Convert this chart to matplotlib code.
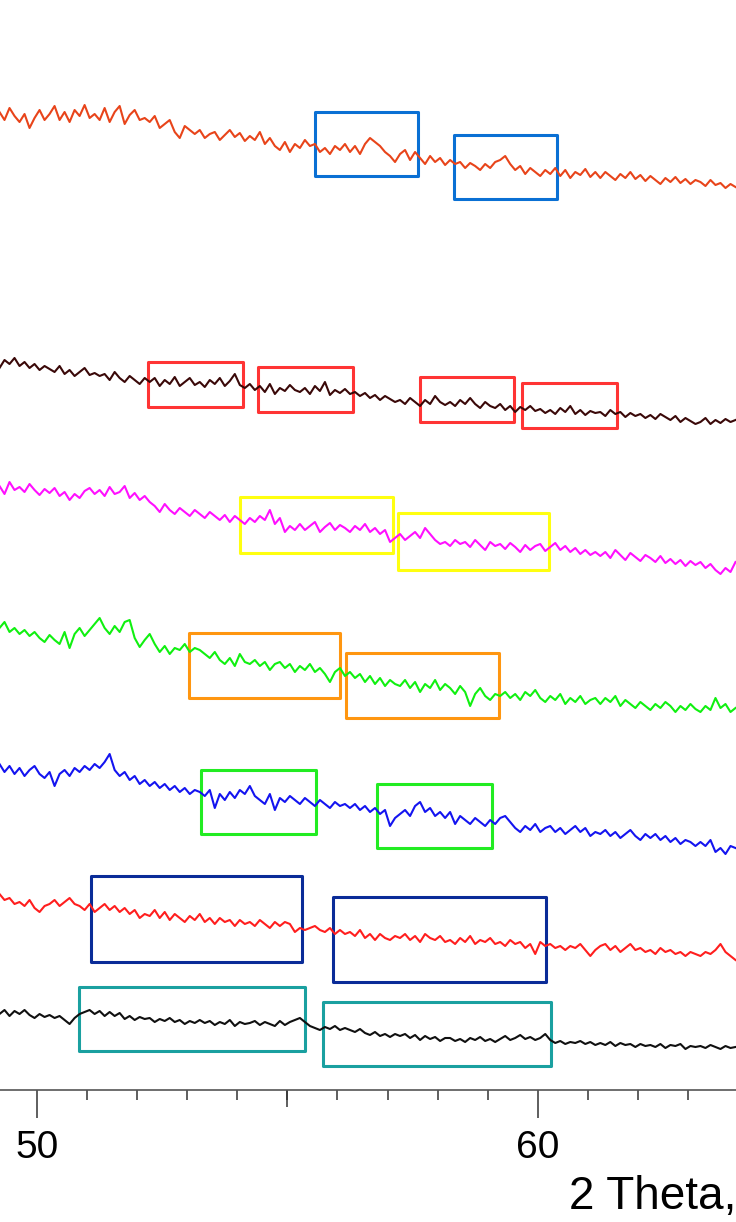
"""
XRD 局部放大图复刻 (2 Theta 49-64 区间)
"""

import numpy as np
import matplotlib.pyplot as plt
from matplotlib.patches import Rectangle

# 2 Theta 采样点 (步长 0.1)
two_theta = np.linspace(49.25, 63.95, 148)

# 各样品强度 (a.u.)，从上到下
inten_orange = [
    978, 970, 982, 974, 968, 976, 962, 972, 980, 970,
    976, 984, 970, 978, 968, 980, 974, 985, 972, 976,
    970, 982, 968, 978, 984, 966, 975, 980, 970, 972,
    968, 974, 962, 966, 970, 958, 952, 964, 960, 956,
    960, 952, 956, 958, 950, 955, 960, 953, 957, 949,
    954, 950, 958, 946, 952, 944, 940, 948, 938, 946,
    942, 950, 944, 946, 938, 942, 936, 944, 940, 946,
    938, 944, 936, 946, 952, 948, 944, 938, 934, 928,
    936, 940, 930, 938, 932, 926, 934, 928, 932, 925,
    930, 926, 928, 922, 927, 924, 920, 926, 922, 928,
    930, 934, 926, 920, 924, 916, 922, 918, 914, 920,
    916, 922, 914, 920, 912, 918, 915, 921, 913, 918,
    912, 918, 914, 910, 916, 912, 918, 911, 915, 909,
    914, 910, 906, 912, 908, 913, 907, 911, 906, 910,
    908, 904, 910, 905, 907, 902, 906, 903,
]
inten_brown = [
    722, 730, 726, 732, 724, 728, 722, 726, 720, 724,
    721, 718, 724, 716, 720, 714, 718, 722, 715, 717,
    714, 716, 710, 718, 712, 708, 714, 710, 706, 712,
    708, 712, 704, 710, 706, 713, 704, 708, 712, 705,
    708, 703, 710, 706, 712, 704, 709, 716, 705, 702,
    706, 700, 704, 698, 706, 696, 702, 699, 705, 700,
    698, 702, 696, 704, 699, 708, 695, 700, 697, 701,
    696, 698, 694, 697, 692, 695, 690, 694, 691, 688,
    690, 686, 692, 688, 684, 690, 686, 694, 688, 685,
    688, 684, 690, 686, 692, 686, 682, 688, 684, 682,
    686, 680, 684, 678, 683, 680, 684, 679, 681, 677,
    680, 676, 682, 678, 684, 676, 680, 675, 679, 677,
    678, 674, 680, 676, 678, 673, 677, 674, 676, 672,
    675, 671, 676, 673, 670, 674, 668, 672, 669, 666,
    668, 672, 666, 670, 667, 671, 668, 670,
]
inten_magenta = [
    604, 596, 608, 600, 603, 598, 606, 600, 595, 601,
    597, 602, 594, 598, 590, 596, 592, 599, 602, 596,
    600, 594, 603, 596, 598, 604, 592, 597, 590, 594,
    588, 584, 578, 586, 580, 576, 582, 578, 574, 580,
    576, 572, 578, 574, 570, 575, 568, 574, 570, 566,
    572, 568, 574, 570, 580, 566, 572, 558, 564, 560,
    566, 560, 564, 568, 558, 563, 567, 560, 565, 562,
    558, 564, 560, 566, 558, 562, 556, 560, 548, 552,
    556, 550, 554, 558, 552, 562, 556, 550, 546, 548,
    544, 550, 546, 548, 543, 550, 545, 540, 548, 544,
    546, 541, 547, 543, 538, 545, 540, 544, 546, 539,
    543, 547, 540, 544, 538, 542, 536, 540, 535, 538,
    534, 538, 532, 540, 535, 530, 537, 533, 529, 535,
    532, 528, 534, 527, 531, 526, 530, 524, 529, 525,
    528, 522, 526, 520, 516, 522, 518, 528,
]
inten_green = [
    462, 468, 458, 462, 456, 460, 454, 458, 452, 448,
    455, 450, 446, 458, 442, 456, 462, 454, 460, 466,
    472, 462, 456, 464, 458, 468, 470, 452, 443, 450,
    456, 446, 438, 444, 436, 442, 440, 446, 438, 442,
    440, 436, 432, 438, 430, 426, 432, 424, 436, 428,
    426, 430, 424, 428, 420, 426, 428, 422, 426, 418,
    424, 420, 426, 418, 422, 416, 408, 418, 422, 414,
    418, 412, 416, 408, 414, 406, 412, 404, 410, 406,
    404, 410, 402, 408, 398, 406, 402, 410, 400, 406,
    402, 396, 404, 398, 384, 396, 402, 394, 390, 396,
    394, 398, 392, 396, 390, 398, 394, 400, 392, 388,
    394, 390, 396, 386, 392, 388, 394, 386, 390, 392,
    386, 392, 388, 394, 384, 390, 386, 382, 388, 384,
    380, 386, 382, 388, 384, 378, 384, 380, 386, 381,
    378, 384, 380, 392, 382, 386, 378, 382,
]
inten_blue = [
    326, 318, 324, 316, 322, 314, 320, 324, 316, 312,
    318, 304, 316, 320, 314, 322, 318, 324, 320, 326,
    322, 328, 336, 320, 314, 318, 310, 314, 306, 310,
    304, 308, 302, 306, 300, 304, 298, 302, 296, 300,
    298, 294, 300, 282, 296, 290, 298, 292, 300, 296,
    304, 294, 290, 286, 296, 280, 292, 288, 294, 290,
    286, 292, 288, 284, 290, 286, 282, 288, 284, 286,
    282, 286, 280, 284, 278, 282, 276, 280, 264, 272,
    276, 280, 274, 284, 288, 278, 282, 274, 278, 272,
    278, 266, 274, 270, 266, 272, 268, 264, 270, 266,
    272, 274, 268, 262, 258, 264, 260, 266, 258, 262,
    264, 258, 262, 256, 260, 264, 258, 262, 254, 258,
    256, 260, 254, 258, 252, 256, 260, 254, 250, 256,
    252, 256, 250, 254, 248, 252, 246, 250, 248, 244,
    248, 244, 250, 238, 242, 236, 244, 242,
]
inten_red = [
    196, 190, 192, 186, 188, 184, 190, 182, 178, 184,
    186, 190, 184, 188, 192, 186, 184, 180, 186, 178,
    182, 186, 180, 184, 178, 182, 176, 180, 172, 176,
    174, 180, 172, 178, 170, 176, 172, 168, 174, 170,
    176, 168, 172, 166, 172, 168, 170, 164, 170, 166,
    168, 164, 170, 166, 162, 168, 164, 168, 166, 158,
    162, 160, 162, 164, 160, 158, 162, 156, 160, 156,
    158, 154, 160, 152, 156, 150, 156, 152, 150, 154,
    152, 156, 150, 154, 148, 156, 152, 150, 154, 148,
    150, 146, 152, 148, 154, 146, 150, 148, 152, 146,
    148, 144, 150, 146, 148, 142, 146, 136, 148, 144,
    146, 142, 144, 140, 144, 142, 146, 140, 134, 140,
    144, 146, 140, 144, 138, 142, 146, 140, 142, 138,
    140, 136, 142, 138, 140, 136, 138, 134, 138, 136,
    134, 138, 136, 140, 146, 138, 134, 130,
]
inten_black = [
    76, 80, 74, 79, 76, 80, 75, 72, 76, 73,
    75, 72, 74, 70, 66, 72, 76, 78, 80, 76,
    79, 74, 78, 74, 77, 71, 74, 70, 73, 71,
    72, 68, 71, 69, 72, 68, 70, 66, 69, 67,
    70, 67, 69, 65, 68, 66, 70, 64, 68, 66,
    67, 69, 65, 68, 66, 64, 69, 65, 68, 70,
    72, 68, 64, 62, 60, 63, 61, 64, 60, 62,
    60, 58, 61, 57, 55, 58, 54, 56, 53, 56,
    54, 56, 52, 55, 50, 54, 51, 53, 49, 52,
    52, 49, 51, 48, 52, 50, 53, 49, 51, 48,
    51, 54, 50, 52, 55, 51, 53, 50, 52, 56,
    50, 47, 49, 46, 48, 47, 49, 46, 48, 45,
    47, 45, 48, 44, 47, 45, 46, 43, 46, 44,
    45, 43, 46, 42, 45, 44, 46, 41, 44, 43,
    44, 42, 45, 43, 41, 44, 42, 43,
]

series = [inten_orange, inten_brown, inten_magenta, inten_green,
          inten_blue, inten_red, inten_black]
line_colors = ['#E8441A', '#3A0808', '#FF10FF', '#10F010',
               '#1414F0', '#FF1E1E', '#101010']

# 标注框: (2θ 起, 2θ 止, 强度下限, 强度上限)
boxes_blue = [(55.56, 57.60, 914, 978), (58.32, 60.38, 891, 955)]
boxes_red = [(52.22, 54.12, 683, 728), (54.42, 56.32, 678, 723),
             (57.64, 59.52, 668, 713), (59.68, 61.58, 662, 707)]
boxes_yellow = [(54.06, 57.10, 537, 593), (57.20, 60.22, 520, 577)]
boxes_orange = [(53.04, 56.06, 392, 457), (56.18, 59.22, 372, 437)]
boxes_green = [(53.28, 55.58, 256, 320), (56.78, 59.08, 242, 306)]
boxes_navy = [(51.08, 55.30, 128, 214), (55.92, 60.16, 108, 193)]
boxes_teal = [(50.84, 55.36, 39, 103), (55.72, 60.26, 24, 88)]

box_groups = [boxes_blue, boxes_red, boxes_yellow, boxes_orange,
              boxes_green, boxes_navy, boxes_teal]
box_colors = ['#0A70D4', '#FF3434', '#FFFF10', '#FF9610',
              '#22EC22', '#0A2C98', '#1AA0A0']

plt.rcParams['font.family'] = ['Liberation Sans', 'DejaVu Sans']

fig = plt.figure(figsize=(7.36, 12.22), dpi=100)
ax = fig.add_axes([0, 132 / 1222, 1, 1090 / 1222])

for vals, c in zip(series, line_colors):
    ax.plot(two_theta, vals, color=c, lw=1.5)

for group, c in zip(box_groups, box_colors):
    for x0, x1, y0, y1 in group:
        ax.add_patch(Rectangle((x0, y0), x1 - x0, y1 - y0, fill=False,
                               edgecolor=c, lw=2.2, joinstyle='round'))

ax.set_xlim(49.26, 63.96)
ax.set_ylim(0, 1090)

for side in ['left', 'right', 'top']:
    ax.spines[side].set_visible(False)
ax.spines['bottom'].set_color('#555555')
ax.spines['bottom'].set_linewidth(1.2)

ax.set_yticks([])
ax.set_xticks([50, 60])
ax.set_xticks(range(51, 64), minor=True)
ax.tick_params(axis='x', which='major', direction='out', length=20, width=1.1,
               color='#333333', labelsize=28, pad=9)
ax.tick_params(axis='x', which='minor', direction='out', length=7, width=1.1,
               color='#333333')

# 55 处的中等刻度
sec = ax.secondary_xaxis('bottom')
sec.set_xticks([55])
sec.tick_params(direction='out', length=12, width=1.1, color='#333333',
                labelbottom=False)
sec.spines['bottom'].set_visible(False)

ax.set_xlabel('2 Theta,', loc='right', fontsize=33, labelpad=6)

plt.savefig('out.png', dpi=100)
